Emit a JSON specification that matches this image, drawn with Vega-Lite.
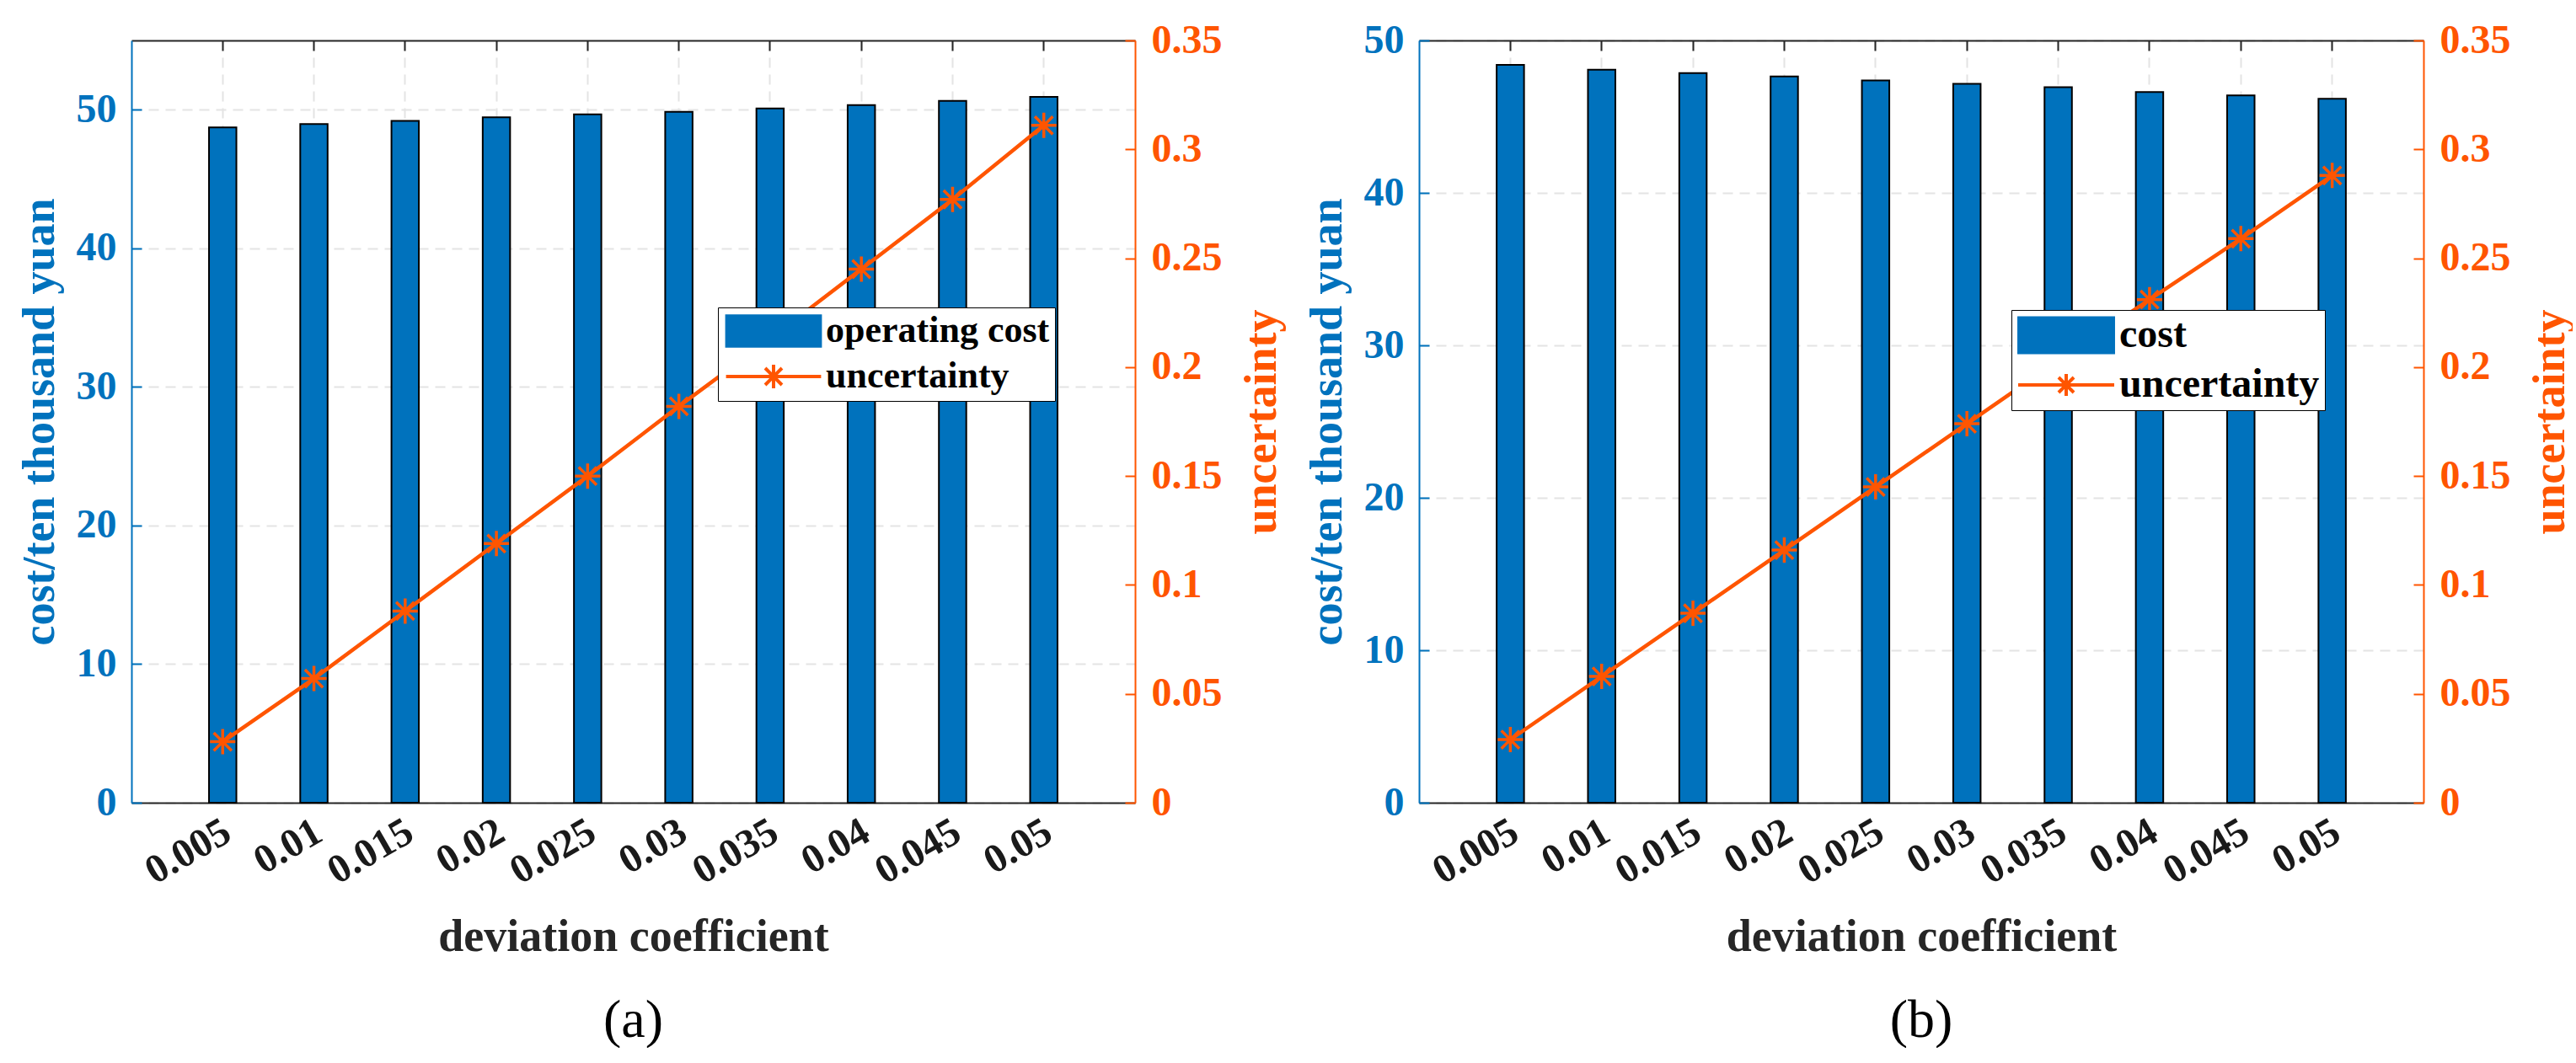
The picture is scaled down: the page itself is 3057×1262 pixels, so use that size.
{
  "$schema": "https://vega.github.io/schema/vega-lite/v6.json",
  "padding": {"left": 20, "top": 24, "right": 0, "bottom": 0},
  "background": "white",
  "config": {
    "font": "Liberation Serif",
    "view": {"stroke": null},
    "axis": {
      "labelFont": "Liberation Serif",
      "labelFontWeight": "bold",
      "titleFont": "Liberation Serif",
      "titleFontWeight": "bold",
      "tickWidth": 2,
      "domainWidth": 2
    },
    "title": {"font": "Liberation Serif", "fontWeight": "normal", "fontSize": 64, "color": "black"}
  },
  "resolve": {"scale": {"color": "independent"}, "legend": {"color": "independent"}},
  "spacing": 24,
  "hconcat": [
    {
      "title": {"text": "(a)", "orient": "bottom", "offset": 40},
      "width": 1191,
      "height": 905,
      "data": {
        "values": [
          {"dev": "0.005", "cost": 48.73, "unc": 0.028},
          {"dev": "0.01", "cost": 48.97, "unc": 0.057},
          {"dev": "0.015", "cost": 49.2, "unc": 0.088},
          {"dev": "0.02", "cost": 49.46, "unc": 0.119},
          {"dev": "0.025", "cost": 49.66, "unc": 0.15},
          {"dev": "0.03", "cost": 49.85, "unc": 0.182},
          {"dev": "0.035", "cost": 50.1, "unc": 0.213},
          {"dev": "0.04", "cost": 50.34, "unc": 0.245},
          {"dev": "0.045", "cost": 50.64, "unc": 0.277},
          {"dev": "0.05", "cost": 50.93, "unc": 0.311}
        ]
      },
      "layer": [
        {
          "mark": {"type": "bar", "stroke": "black", "strokeWidth": 2},
          "encoding": {
            "x": {
              "field": "dev", "type": "ordinal", "sort": null,
              "scale": {"paddingInner": 0.7, "paddingOuter": 0.85},
              "axis": {
                "orient": "bottom", "bandPosition": 0.5,
                "grid": true, "gridColor": "#e4e4e4", "gridDash": [12, 8], "gridWidth": 2,
                "tickSize": -12, "tickColor": "#262626", "domainColor": "#262626",
                "labelAngle": -30, "labelAlign": "right", "labelBaseline": "top", "labelOffset": -6,
                "labelFontSize": 48, "labelColor": "#1a1a1a", "labelPadding": 22,
                "title": "deviation coefficient", "titleFontSize": 54, "titleColor": "#262626", "titlePadding": 27
              }
            },
            "y": {
              "field": "cost", "type": "quantitative",
              "scale": {"domain": [0, 55]},
              "axis": {
                "orient": "left", "values": [0, 10, 20, 30, 40, 50],
                "grid": true, "gridColor": "#e4e4e4", "gridDash": [12, 8], "gridWidth": 2,
                "tickSize": -12, "tickColor": "#0072BD", "domainColor": "#0072BD",
                "labelColor": "#0072BD", "labelFontSize": 48, "labelPadding": 30,
                "title": "cost/ten thousand yuan", "titleColor": "#0072BD", "titleFontSize": 54, "titlePadding": 16
              }
            },
            "color": {
              "datum": "operating cost", "type": "nominal",
              "scale": {"domain": ["operating cost", "uncertainty"], "range": ["#0072BD", "#FF5500"]},
              "legend": {
                "orient": "none", "legendX": 696, "legendY": 317, "direction": "vertical", "title": null,
                "strokeColor": "black", "fillColor": "white", "padding": 6,
                "labelFont": "Liberation Serif", "labelFontWeight": "bold", "labelFontSize": 44, "labelColor": "black", "labelLimit": 600,
                "symbolType": {"expr": "datum.value === 'uncertainty' ? 'M-3,0H3M0,-0.75V0.75M-0.53,-0.53L0.53,0.53M-0.53,0.53L0.53,-0.53' : 'M-3,-1H3V1H-3Z'"},
                "symbolFillColor": {"expr": "datum.value === 'uncertainty' ? 'transparent' : '#0072BD'"},
                "symbolStrokeColor": {"expr": "datum.value === 'uncertainty' ? '#FF5500' : 'black'"},
                "symbolStrokeWidth": {"expr": "datum.value === 'uncertainty' ? 4 : 2"},
                "symbolSize": 1414, "symbolOffset": 38, "labelOffset": 40, "rowPadding": 8
              }
            }
          }
        },
        {
          "mark": {"type": "line", "strokeWidth": 4.5, "point": {"shape": "M-1,0H1M0,-1V1M-0.71,-0.71L0.71,0.71M-0.71,0.71L0.71,-0.71", "filled": false, "size": 900, "strokeWidth": 3.5}},
          "encoding": {
            "x": {
              "field": "dev", "type": "ordinal", "sort": null,
              "axis": {"orient": "top", "labels": false, "title": null, "grid": false, "bandPosition": 0.5, "tickSize": -12, "tickColor": "#262626", "domainColor": "#262626"}
            },
            "y": {
              "field": "unc", "type": "quantitative",
              "scale": {"domain": [0, 0.35]},
              "axis": {
                "orient": "right", "values": [0, 0.05, 0.1, 0.15, 0.2, 0.25, 0.3, 0.35], "format": "~g",
                "grid": false, "tickSize": -12, "tickColor": "#FF5500", "domainColor": "#FF5500",
                "labelColor": "#FF5500", "labelFontSize": 48, "labelPadding": 31,
                "title": "uncertainty", "titleColor": "#FF5500", "titleFontSize": 54, "titlePadding": 20, "titleAngle": 270, "titleBaseline": "top"
              }
            },
            "color": {"datum": "uncertainty", "type": "nominal"}
          }
        }
      ],
      "resolve": {"scale": {"y": "independent"}, "axis": {"x": "independent"}}
    },
    {
      "title": {"text": "(b)", "orient": "bottom", "offset": 40},
      "width": 1192,
      "height": 905,
      "data": {
        "values": [
          {"dev": "0.005", "cost": 48.4, "unc": 0.029},
          {"dev": "0.01", "cost": 48.08, "unc": 0.058},
          {"dev": "0.015", "cost": 47.86, "unc": 0.087},
          {"dev": "0.02", "cost": 47.64, "unc": 0.116},
          {"dev": "0.025", "cost": 47.37, "unc": 0.145},
          {"dev": "0.03", "cost": 47.15, "unc": 0.174},
          {"dev": "0.035", "cost": 46.93, "unc": 0.203},
          {"dev": "0.04", "cost": 46.61, "unc": 0.231},
          {"dev": "0.045", "cost": 46.39, "unc": 0.259},
          {"dev": "0.05", "cost": 46.17, "unc": 0.288}
        ]
      },
      "layer": [
        {
          "mark": {"type": "bar", "stroke": "black", "strokeWidth": 2},
          "encoding": {
            "x": {
              "field": "dev", "type": "ordinal", "sort": null,
              "scale": {"paddingInner": 0.7, "paddingOuter": 0.85},
              "axis": {
                "orient": "bottom", "bandPosition": 0.5,
                "grid": true, "gridColor": "#e4e4e4", "gridDash": [12, 8], "gridWidth": 2,
                "tickSize": -12, "tickColor": "#262626", "domainColor": "#262626",
                "labelAngle": -30, "labelAlign": "right", "labelBaseline": "top", "labelOffset": -6,
                "labelFontSize": 48, "labelColor": "#1a1a1a", "labelPadding": 22,
                "title": "deviation coefficient", "titleFontSize": 54, "titleColor": "#262626", "titlePadding": 27
              }
            },
            "y": {
              "field": "cost", "type": "quantitative",
              "scale": {"domain": [0, 50]},
              "axis": {
                "orient": "left", "values": [0, 10, 20, 30, 40, 50],
                "grid": true, "gridColor": "#e4e4e4", "gridDash": [12, 8], "gridWidth": 2,
                "tickSize": -12, "tickColor": "#0072BD", "domainColor": "#0072BD",
                "labelColor": "#0072BD", "labelFontSize": 48, "labelPadding": 30,
                "title": "cost/ten thousand yuan", "titleColor": "#0072BD", "titleFontSize": 54, "titlePadding": 16
              }
            },
            "color": {
              "datum": "cost", "type": "nominal",
              "scale": {"domain": ["cost", "uncertainty"], "range": ["#0072BD", "#FF5500"]},
              "legend": {
                "orient": "none", "legendX": 703, "legendY": 320, "direction": "vertical", "title": null,
                "strokeColor": "black", "fillColor": "white", "padding": 6,
                "labelFont": "Liberation Serif", "labelFontWeight": "bold", "labelFontSize": 48, "labelColor": "black", "labelLimit": 600,
                "symbolType": {"expr": "datum.value === 'uncertainty' ? 'M-2.65,0H2.65M0,-0.6V0.6M-0.42,-0.42L0.42,0.42M-0.42,0.42L0.42,-0.42' : 'M-2.65,-1H2.65V1H-2.65Z'"},
                "symbolFillColor": {"expr": "datum.value === 'uncertainty' ? 'transparent' : '#0072BD'"},
                "symbolStrokeColor": {"expr": "datum.value === 'uncertainty' ? '#FF5500' : 'black'"},
                "symbolStrokeWidth": {"expr": "datum.value === 'uncertainty' ? 4 : 2"},
                "symbolSize": 1849, "symbolOffset": 35, "labelOffset": 39, "rowPadding": 9
              }
            }
          }
        },
        {
          "mark": {"type": "line", "strokeWidth": 4.5, "point": {"shape": "M-1,0H1M0,-1V1M-0.71,-0.71L0.71,0.71M-0.71,0.71L0.71,-0.71", "filled": false, "size": 900, "strokeWidth": 3.5}},
          "encoding": {
            "x": {
              "field": "dev", "type": "ordinal", "sort": null,
              "axis": {"orient": "top", "labels": false, "title": null, "grid": false, "bandPosition": 0.5, "tickSize": -12, "tickColor": "#262626", "domainColor": "#262626"}
            },
            "y": {
              "field": "unc", "type": "quantitative",
              "scale": {"domain": [0, 0.35]},
              "axis": {
                "orient": "right", "values": [0, 0.05, 0.1, 0.15, 0.2, 0.25, 0.3, 0.35], "format": "~g",
                "grid": false, "tickSize": -12, "tickColor": "#FF5500", "domainColor": "#FF5500",
                "labelColor": "#FF5500", "labelFontSize": 48, "labelPadding": 31,
                "title": "uncertainty", "titleColor": "#FF5500", "titleFontSize": 54, "titlePadding": 20, "titleAngle": 270, "titleBaseline": "top"
              }
            },
            "color": {"datum": "uncertainty", "type": "nominal"}
          }
        }
      ],
      "resolve": {"scale": {"y": "independent"}, "axis": {"x": "independent"}}
    }
  ]
}
